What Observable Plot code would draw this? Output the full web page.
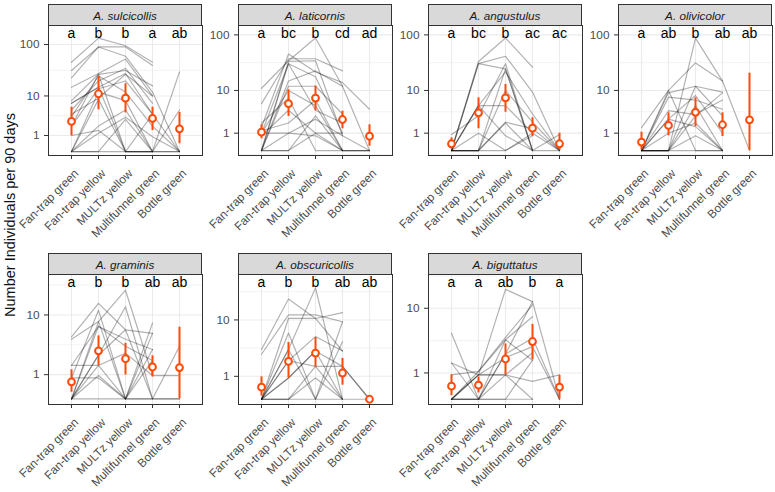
<!DOCTYPE html>
<html><head><meta charset="utf-8">
<script src="https://cdn.jsdelivr.net/npm/d3@7"></script>
<script src="https://cdn.jsdelivr.net/npm/@observablehq/plot@0.6"></script>
<style>
body{margin:0;background:#fff;}
#chart{position:relative;width:775px;height:492px;overflow:hidden;background:#fff;font-family:"Liberation Sans",Arial,Helvetica,sans-serif;}
.strip{position:absolute;box-sizing:border-box;background:#d9d9d9;border:1px solid #333;color:#1a1a1a;font-style:italic;font-size:11.7px;display:flex;align-items:center;justify-content:center;}
.panel{position:absolute;}
.ylab{position:absolute;left:10px;top:215px;transform:translate(-50%,-50%) rotate(-90deg);white-space:nowrap;font-size:14.5px;color:#111;}
#chart svg g[aria-label="y-axis tick label"], #chart svg g[aria-label="x-axis tick label"]{fill:#4d4d4d;font-size:11.8px;}
#chart svg g[aria-label="x-axis tick label"]{transform:translate(5.5px,16.5px);}
#chart svg g[aria-label="y-axis tick"], #chart svg g[aria-label="x-axis tick"]{stroke:#333;}
</style>
</head><body>
<div id="chart"><div class="ylab">Number Individuals per 90 days</div></div>
<script>
// ---------- data ----------
const traps = ["Fan-trap green", "Fan-trap yellow", "MULTz yellow", "Multifunnel green", "Bottle green"];
const speciesNames = ["A. sulcicollis", "A. laticornis", "A. angustulus", "A. olivicolor", "A. graminis", "A. obscuricollis", "A. biguttatus"];
const yTicksTop = [1, 10, 100];
const yTicksBottom = [1, 10];

const sulcicollisCounts = [
  [46, 132, 95, 46, null], [32, 90, 90, 40, null], [23, 90, 60, 12, 0], [15, 28, 53, 10, null],
  [8, 27, 32, 16, null], [7, 15, 28, 4, 0], [4, 9, 27, 10, null], [2, 14, 20, 4, null],
  [0, 12, 8, 0, 30], [0, 2, 5, 0, 0], [0, 1.2, 3.4, 0.9, 0], [0, 0, 3, 0, 5],
  [1, 1.5, 0, 0, null], [0, 8.5, 0, 0, null], [3.5, 25, 12, 2, 0], [0, 0, 0, 0, 0],
  [5, 20, 35, 7, null], [2, 27, 0, 4, null], [7, 15, 0, 0, null]
];
const sulcicollisMean = [2.66, 11.1, 9.0, 3.17, 1.67];
const sulcicollisLow = [0.97, 5.05, 4.3, 1.48, 0.40];
const sulcicollisHigh = [5.78, 24.5, 17.6, 5.78, 4.4];
const sulcicollisLetters = ["a", "b", "b", "a", "ab"];

const laticornisCounts = [
  [11, 35, 88, 12, null], [5.5, 38, 38, 23, null], [1.5, 46, 22, 14, 4.2], [1, 31, 18, 1, null],
  [0, 15, 23, 12, 0], [0, 12, 12, 3.3, null], [1.2, 2, 6.5, 0, 0], [0, 1, 2.5, 0.8, null],
  [0, 34, 35, 0.8, 0], [0.8, 4, 1, 1, null], [1, 1, 0.8, 0, null], [0, 0, 3, 0, 0],
  [2, 7, 0, 0, null], [0, 31, 4, 2, null], [0, 0, 1, 0, null], [1, 10, 5, 0, 0]
];
const laticornisMean = [1.08, 5.5, 7.1, 2.45, 0.77];
const laticornisLow = [0.6, 2.9, 3.9, 1.38, 0.19];
const laticornisHigh = [1.8, 10.3, 12.1, 3.8, 1.8];
const laticornisLetters = ["a", "bc", "b", "cd", "ad"];

const angustulusCounts = [
  [0, 34, 88, 27, null], [0, 31, 42, 9.3, 0], [0, 31, 25, 0, null], [0, 5, 22, 3.3, 0],
  [0, 5, 5, 1, null], [0.9, 3, 31, 0, null], [0, 0, 10, 2.1, 0], [0, 0, 2.1, 1.4, 0],
  [0, 5, 0.8, 0, 0.9], [0, 0, 0, 1, 0], [0, 0, 25, 0, null], [0, 1, 0, 0.8, null], [0, 0, 2, 0, 0]
];
const angustulusMean = [0.31, 3.5, 7.2, 1.44, 0.31];
const angustulusLow = [0.07, 1.38, 3.6, 0.75, 0];
const angustulusHigh = [0.66, 7.2, 13, 2.7, 1.0];
const angustulusLetters = ["a", "bc", "b", "ac", "ac"];

const olivicolorCounts = [
  [1.5, 10, 32, 15, 0], [0, 0, 88, 15, null], [0, 9, 12, 9.3, null], [0, 7.4, 6.5, 4.2, null],
  [0, 3.9, 3.2, 6.5, null], [0, 2.5, 1.6, 0, null], [0, 0, 12, 3, null], [0, 0, 5, 0, null],
  [0, 0, 0.8, 0, null], [0, 10, 0, 0, null], [0, 0, 3, 9, null], [0, 2.5, 8, 1, null],
  [0, 0, 0, 0, null], [0, 1, 2, 0, null]
];
const olivicolorMean = [0.4, 1.72, 3.6, 1.8, 2.41];
const olivicolorLow = [0.03, 0.8, 1.6, 0.75, 0];
const olivicolorHigh = [1.08, 3.5, 7.2, 3.5, 20.9];
const olivicolorLetters = ["a", "ab", "b", "ab", "ab"];

const graminisCounts = [
  [4.9, 14.3, 6.2, 5.5, null], [4.5, 8.1, 21.3, 0.95, 0.95], [1.6, 6.9, 4.5, 3.1, null],
  [0.82, 11.6, 0, 7.7, null], [0, 7, 3.5, 2, null], [0, 2.5, 12.9, 0, 3.5], [0, 1.6, 0, 5.5, null],
  [1.6, 1.6, 2.7, 0.95, null], [0, 0.95, 0, 0, 0], [0, 0, 0, 0, 0], [0.82, 0.82, 0, 3.1, null],
  [0, 2.5, 6.2, 0, null], [0, 8.1, 0, 2, null]
];
const graminisMean = [0.63, 2.95, 2.15, 1.49, 1.45];
const graminisLow = [0.21, 1.6, 0.98, 0.87, 0];
const graminisHigh = [1.3, 5.05, 3.9, 2.43, 6.75];
const graminisLetters = ["a", "b", "b", "ab", "ab"];

const obscuricollisCounts = [
  [3.5, 19.7, 10.5, 12.7, null], [2.9, 11.8, 11.8, 9.4, null], [0, 10.5, 10.5, 3.3, null],
  [0, 6.4, 0, 4.7, null], [0, 3.5, 28, 0, null], [0, 2.2, 5.65, 3.3, null], [0, 0.9, 3.3, 1.7, 0],
  [0, 0, 1.7, 0, 0], [0, 0, 0.9, 0, null], [0, 3.5, 0, 0, null], [0, 0.9, 3.3, 0, null],
  [0, 0, 0, 9.4, null], [0, 2.2, 1.7, 1.7, 0]
];
const obscuricollisMean = [0.44, 2.14, 3.04, 1.21, 0];
const obscuricollisLow = [0.1, 0.9, 1.65, 0.53, 0];
const obscuricollisHigh = [0.97, 4.56, 5.46, 2.44, 0];
const obscuricollisLetters = ["a", "b", "b", "ab", "ab"];

const biguttatusCounts = [
  [4.7, 0, 2.3, 12.1, 0], [1.6, 0.9, 17.1, 12.1, null], [0.9, 1.08, 4.1, 11, null],
  [0, 1.08, 3.8, 7.8, null], [0, 0.9, 0.9, 2.4, null], [0, 0, 0, 1.8, null], [0, 0.9, 0.9, 0.6, 0.9],
  [0, 0, 2.3, 4, 0], [0, 0, 0, 0, null], [1.6, 0, 0.9, 0, null], [0, 0, 3.8, 1.8, null], [0, 0.9, 2, 3, 0]
];
const biguttatusMean = [0.41, 0.45, 1.89, 3.58, 0.38];
const biguttatusLow = [0.1, 0.18, 0.91, 1.83, 0];
const biguttatusHigh = [0.91, 0.8, 3.3, 6.2, 0.88];
const biguttatusLetters = ["a", "a", "ab", "b", "a"];

// ---------- layout ----------
const panels = [
  {counts: sulcicollisCounts, mean: sulcicollisMean, low: sulcicollisLow, high: sulcicollisHigh, letters: sulcicollisLetters, col: 0, row: 0, lim: [-0.074, 2.361], ticks: yTicksTop},
  {counts: laticornisCounts, mean: laticornisMean, low: laticornisLow, high: laticornisHigh, letters: laticornisLetters, col: 1, row: 0, lim: [-0.086, 2.167], ticks: yTicksTop},
  {counts: angustulusCounts, mean: angustulusMean, low: angustulusLow, high: angustulusHigh, letters: angustulusLetters, col: 2, row: 0, lim: [-0.086, 2.167], ticks: yTicksTop},
  {counts: olivicolorCounts, mean: olivicolorMean, low: olivicolorLow, high: olivicolorHigh, letters: olivicolorLetters, col: 3, row: 0, lim: [-0.086, 2.167], ticks: yTicksTop},
  {counts: graminisCounts, mean: graminisMean, low: graminisLow, high: graminisHigh, letters: graminisLetters, col: 0, row: 1, lim: [-0.069, 1.543], ticks: yTicksBottom},
  {counts: obscuricollisCounts, mean: obscuricollisMean, low: obscuricollisLow, high: obscuricollisHigh, letters: obscuricollisLetters, col: 1, row: 1, lim: [-0.069, 1.638], ticks: yTicksBottom},
  {counts: biguttatusCounts, mean: biguttatusMean, low: biguttatusLow, high: biguttatusHigh, letters: biguttatusLetters, col: 2, row: 1, lim: [-0.060, 1.428], ticks: yTicksBottom}
];
const colLeft = c => 48 + 190 * c;
const rowTop = [25, 274];
const plotW = 154, plotH = 130, stripH = 21, mL = 48, mR = 4, mB = 90;
const orange = "#ff4a0a";

// log10(1+x) limit -> symlog(constant 1) data value
const fromLog1p = L => { const t = L * Math.LN10; return t >= 0 ? Math.expm1(t) : -Math.expm1(-t); };

const chart = document.getElementById("chart");
panels.forEach((p, k) => {
  const left = colLeft(p.col), top = rowTop[p.row];
  const strip = document.createElement("div");
  strip.className = "strip";
  strip.style.left = left + "px";
  strip.style.top = (top - stripH) + "px";
  strip.style.width = plotW + "px";
  strip.style.height = (stripH + 1) + "px";
  strip.textContent = speciesNames[k];
  chart.appendChild(strip);

  const rows = p.counts.flatMap((vals, i) => vals.map((v, j) => ({id: i, trap: traps[j], v}))).filter(d => d.v != null);
  const stats = traps.map((t, j) => ({trap: t, m: p.mean[j], lo: p.low[j], hi: p.high[j], letter: p.letters[j]}));
  const tk = p.ticks.map(v => Math.log10(1 + v));
  const bd = tk[1] - tk[0];
  const ext = [tk[0] - bd, ...tk, tk[tk.length - 1] + bd];
  const minor = d3.pairs(ext).map(([a, b]) => (a + b) / 2).filter(m => m > p.lim[0] + 0.01 && m < p.lim[1]).map(fromLog1p);

  const svg = Plot.plot({
    width: mL + plotW + mR,
    height: plotH + mB,
    marginLeft: mL, marginRight: mR, marginTop: 0, marginBottom: mB,
    style: {background: "transparent", overflow: "visible", fontSize: "11.8px", color: "#4d4d4d", fontFamily: "Liberation Sans, Arial, sans-serif"},
    x: {type: "point", domain: traps, padding: 0.8, tickRotate: -45, tickSize: 4, tickPadding: 7, label: null},
    y: {type: "symlog", constant: 1, domain: [fromLog1p(p.lim[0]), fromLog1p(p.lim[1])], ticks: p.ticks, tickSize: 4, tickPadding: 5, label: null, tickFormat: d => String(d)},
    marks: [
      Plot.ruleY(minor, {stroke: "#ebebeb", strokeWidth: 0.6}),
      Plot.ruleY(p.ticks, {stroke: "#ebebeb", strokeWidth: 1.1}),
      Plot.ruleX(traps, {stroke: "#ebebeb", strokeWidth: 1.1}),
      Plot.line(rows, {x: "trap", y: "v", z: "id", stroke: "black", strokeOpacity: 0.3, strokeWidth: 1.2}),
      Plot.ruleX(stats, {x: "trap", y1: "lo", y2: "hi", stroke: orange, strokeWidth: 2}),
      Plot.dot(stats, {x: "trap", y: "m", r: 3.4, stroke: orange, fill: "white", strokeWidth: 2}),
      Plot.text(stats, {x: "trap", text: "letter", frameAnchor: "top", lineAnchor: "middle", dy: 8, fontSize: 14, fill: "black"}),
      Plot.frame({stroke: "#333", strokeWidth: 1})
    ]
  });
  svg.classList.add("panel");
  svg.style.position = "absolute";
  svg.style.left = (left - mL) + "px";
  svg.style.top = top + "px";
  chart.appendChild(svg);
});
</script>
</body></html>
